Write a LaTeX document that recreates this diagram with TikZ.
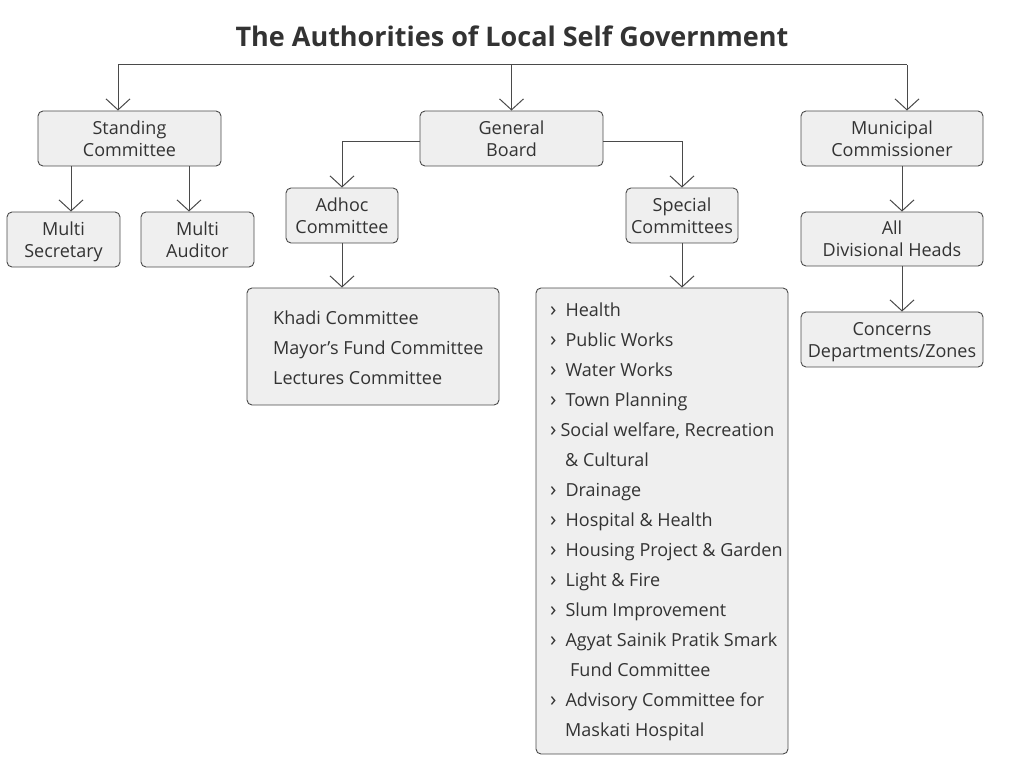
\documentclass[tikz,border=0pt]{standalone}
\usepackage{fontspec}
\setmainfont{Open Sans}
\usetikzlibrary{arrows.meta}
\definecolor{boxfill}{HTML}{EFEFEF}
\definecolor{boxline}{HTML}{4A4A4A}
\definecolor{txt}{HTML}{333333}
\newcommand{\chev}{{\fontsize{21}{22}\selectfont ›}}
\tikzset{
  box/.style={draw=boxline, line width=0.9pt, fill=boxfill, rounded corners=5pt, inner sep=0pt, align=center, text=txt, text depth=0pt, font=\fontsize{18}{22}\selectfont},
  conn/.style={draw=boxline, line width=1pt},
  arr/.style={conn, -{Straight Barb[length=11pt,width=24pt,line width=1pt]}},
  item/.style={anchor=base west, inner sep=0pt, text=txt, font=\fontsize{18}{22}\selectfont},
}
\begin{document}
\begin{tikzpicture}[x=1pt,y=-1pt]
\useasboundingbox (0,0) rectangle (1024,770);
\node[text=txt, font=\fontsize{27}{30}\bfseries] (title) at (512,36) {The Authorities of Local Self Government};

\node[box, minimum width=183pt, minimum height=55pt] (sc) at (129.5,138.5) {Standing\\Committee};
\node[box, minimum width=183pt, minimum height=55pt] (gb) at (511.5,138.5) {General\\Board};
\node[box, minimum width=182pt, minimum height=55pt] (mc) at (892,138.5) {Municipal\\Commissioner};

\node[box, minimum width=113pt, minimum height=55pt] (ms) at (63.5,239.5) {Multi\\Secretary};
\node[box, minimum width=113pt, minimum height=55pt] (ma) at (197.5,239.5) {Multi\\Auditor};

\node[box, minimum width=112pt, minimum height=55pt] (ac) at (342,215.5) {Adhoc\\Committee};
\node[box, minimum width=112pt, minimum height=55pt] (spc) at (682,215.5) {Special\\Committees};

\node[box, minimum width=182pt, minimum height=54pt] (dh) at (892,239) {All\\Divisional Heads};
\node[box, minimum width=182pt, minimum height=55pt] (cd) at (892,339.5) {Concerns\\Departments/Zones};

\node[box, minimum width=252pt, minimum height=117pt] (al) at (373,346.5) {};
\node[box, minimum width=252pt, minimum height=466pt] (sl) at (662,521) {};

% adhoc list
\node[item] (a1) at (273,324.5) {Khadi Committee};
\node[item] (a2) at (273,354.5) {Mayor’s Fund Committee};
\node[item] (a3) at (273,384.5) {Lectures Committee};

% special list
\node[item] (s1) at (550,316.5) {\chev\hspace{9pt}Health};
\node[item] (s2) at (550,346.5) {\chev\hspace{9pt}Public Works};
\node[item] (s3) at (550,376.5) {\chev\hspace{9pt}Water Works};
\node[item] (s4) at (550,406.5) {\chev\hspace{9pt}Town Planning};
\node[item] (s5) at (550,436.5) {\chev\hspace{4pt}Social welfare, Recreation};
\node[item] (s6) at (565,466.5) {\& Cultural};
\node[item] (s7) at (550,496.5) {\chev\hspace{9pt}Drainage};
\node[item] (s8) at (550,526.5) {\chev\hspace{9pt}Hospital \& Health};
\node[item] (s9) at (550,556.5) {\chev\hspace{9pt}Housing Project \& Garden};
\node[item] (s10) at (550,586.5) {\chev\hspace{9pt}Light \& Fire};
\node[item] (s11) at (550,616.5) {\chev\hspace{9pt}Slum Improvement};
\node[item] (s12) at (550,646.5) {\chev\hspace{9pt}Agyat Sainik Pratik Smark};
\node[item] (s13) at (570,676.5) {Fund Committee};
\node[item] (s14) at (550,706.5) {\chev\hspace{9pt}Advisory Committee for};
\node[item] (s15) at (565,736.5) {Maskati Hospital};

% connectors
\coordinate (tl) at (118,65);
\coordinate (tr) at (907,65);
\draw[conn] (tl) -- (tr);
\draw[arr] (tl) -- (sc.north -| tl);
\draw[arr] (gb.north |- tl) -- (gb.north);
\draw[arr] (tr) -- (mc.north -| tr);

\coordinate (c1) at (71,0);
\coordinate (c2) at (189,0);
\draw[arr] (sc.south -| c1) -- (ms.north -| c1);
\draw[arr] (sc.south -| c2) -- (ma.north -| c2);

\coordinate (c3) at (342,142);
\coordinate (c4) at (682,142);
\draw[arr] (gb.west |- c3) -- (c3) -- (ac.north);
\draw[arr] (gb.east |- c4) -- (c4) -- (spc.north);

\draw[arr] (ac.south) -- (al.north -| ac.south);
\draw[arr] (spc.south) -- (sl.north -| spc.south);

\coordinate (c5) at (902,0);
\draw[arr] (mc.south -| c5) -- (dh.north -| c5);
\draw[arr] (dh.south -| c5) -- (cd.north -| c5);
\end{tikzpicture}
\end{document}
